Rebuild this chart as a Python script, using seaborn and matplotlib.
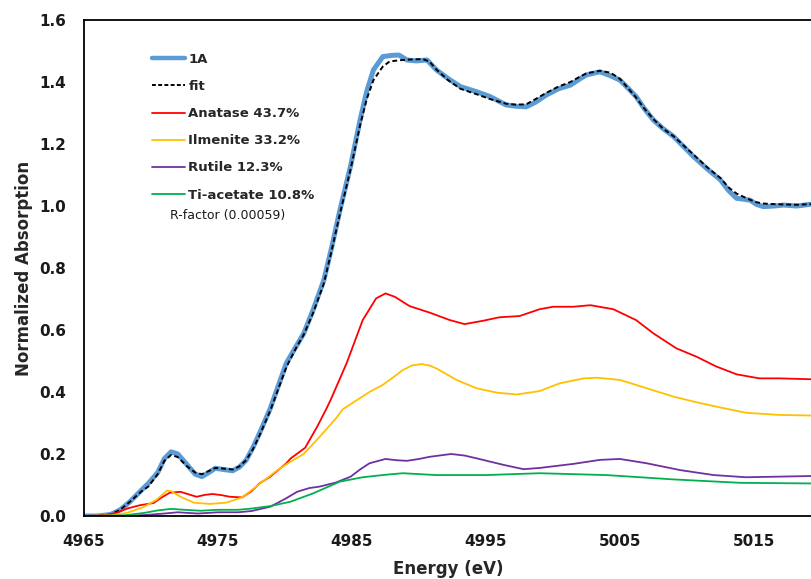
import matplotlib
matplotlib.use("Agg")
import matplotlib.pyplot as plt
import seaborn as sns
import pandas as pd
from matplotlib.lines import Line2D

# ---- data ----
x_1a = [4965.0, 4966.0, 4967.0, 4967.7, 4968.4, 4969.3, 4969.8, 4970.5, 4971.0, 4971.5,
        4972.0, 4972.7, 4973.3, 4973.8, 4974.3, 4974.8, 4975.4, 4976.1, 4976.6, 4977.1,
        4977.6, 4978.1, 4978.9, 4979.5, 4980.1, 4980.8, 4981.4, 4982.1, 4982.9, 4983.5,
        4984.1, 4984.9, 4985.6, 4986.1, 4986.6, 4987.3, 4988.0, 4988.5, 4989.1, 4989.8,
        4990.6, 4991.3, 4992.2, 4993.1, 4994.2, 4995.3, 4996.5, 4997.2, 4998.0, 4998.7,
        4999.5, 5000.4, 5001.3, 5002.0, 5002.5, 5003.5, 5004.3, 5005.0, 5005.6, 5006.2,
        5006.8, 5007.5, 5008.2, 5009.0, 5010.5, 5011.5, 5012.5, 5013.1, 5013.7, 5014.7,
        5015.2, 5015.7, 5016.5, 5017.2, 5018.2, 5019.3]
y_1a = [0.0, 0.0, 0.005, 0.02, 0.045, 0.084, 0.105, 0.14, 0.185, 0.207,
        0.2, 0.165, 0.135, 0.127, 0.14, 0.154, 0.15, 0.146, 0.158, 0.18,
        0.22, 0.267, 0.347, 0.42, 0.493, 0.545, 0.589, 0.665, 0.761, 0.87,
        0.987, 1.13, 1.277, 1.37, 1.439, 1.482, 1.486, 1.487, 1.471, 1.468,
        1.471, 1.439, 1.41, 1.385, 1.37, 1.353, 1.326, 1.322, 1.32, 1.335,
        1.358, 1.378, 1.39, 1.41, 1.423, 1.433, 1.42, 1.406, 1.38, 1.353,
        1.315, 1.277, 1.25, 1.224, 1.159, 1.12, 1.084, 1.05, 1.025, 1.019,
        1.005, 0.998, 1.0, 1.003, 1.0, 1.006]

x_fit = [4965.0, 4966.0, 4967.0, 4967.7, 4968.4, 4969.3, 4969.8, 4970.5, 4971.0, 4971.5,
         4972.0, 4972.7, 4973.3, 4973.8, 4974.3, 4974.8, 4975.4, 4976.1, 4976.6, 4977.1,
         4977.6, 4978.1, 4978.9, 4979.5, 4980.1, 4980.8, 4981.4, 4982.1, 4982.9, 4983.5,
         4984.1, 4984.9, 4985.6, 4986.1, 4986.6, 4987.3, 4987.8, 4988.5, 4989.1, 4990.3,
         4990.8, 4991.3, 4992.2, 4993.1, 4994.2, 4995.3, 4996.5, 4997.2, 4998.0, 4998.7,
         4999.5, 5000.4, 5001.3, 5002.0, 5002.5, 5003.5, 5004.3, 5005.0, 5005.6, 5006.2,
         5006.8, 5007.5, 5008.2, 5009.0, 5010.5, 5011.5, 5012.5, 5013.1, 5013.7, 5014.7,
         5015.2, 5015.7, 5016.5, 5017.2, 5018.2, 5019.3]
y_fit = [0.0, 0.0, 0.005, 0.02, 0.045, 0.08, 0.095, 0.135, 0.178, 0.197,
         0.19, 0.16, 0.14, 0.135, 0.145, 0.155, 0.153, 0.15, 0.16, 0.18,
         0.215, 0.26, 0.34, 0.41, 0.48, 0.54, 0.585, 0.655, 0.75, 0.86,
         0.975, 1.12, 1.26, 1.345, 1.406, 1.45, 1.466, 1.47, 1.472, 1.474,
         1.465, 1.44, 1.405, 1.378, 1.362, 1.345, 1.33, 1.327, 1.328, 1.345,
         1.365, 1.385, 1.4, 1.417, 1.428, 1.436, 1.43, 1.41, 1.38, 1.35,
         1.315, 1.28, 1.25, 1.225, 1.165, 1.125, 1.09, 1.06, 1.04, 1.02,
         1.012, 1.008, 1.006, 1.005, 1.004, 1.006]

x_anatase = [4965.0, 4966.5, 4967.4, 4968.3, 4969.2, 4970.2, 4970.8, 4971.4, 4972.2, 4972.8,
             4973.4, 4974.0, 4974.6, 4975.3, 4975.9, 4976.8, 4977.5, 4978.1, 4978.9, 4980.1,
             4980.4, 4981.5, 4982.4, 4983.1, 4983.4, 4984.6, 4985.8, 4986.8, 4987.5, 4988.2,
             4989.3, 4990.8, 4992.3, 4993.4, 4994.8, 4996.0, 4997.5, 4999.0, 5000.0, 5001.5,
             5002.8, 5004.5, 5006.2, 5007.5, 5009.2, 5010.7, 5012.2, 5013.7, 5015.4, 5016.9,
             5019.3]
y_anatase = [0.0, 0.002, 0.01, 0.025, 0.035, 0.042, 0.06, 0.075, 0.078, 0.07,
             0.062, 0.068, 0.071, 0.067, 0.062, 0.06, 0.08, 0.105, 0.127, 0.17,
             0.185, 0.22, 0.288, 0.347, 0.374, 0.493, 0.632, 0.702, 0.718, 0.707,
             0.677, 0.656, 0.632, 0.619, 0.63, 0.641, 0.645, 0.667, 0.675, 0.675,
             0.68, 0.667, 0.632, 0.589, 0.541, 0.514, 0.482, 0.457, 0.444, 0.444,
             0.441]

x_ilmenite = [4965.0, 4967.0, 4968.2, 4969.4, 4970.4, 4971.2, 4971.5, 4972.2, 4973.2, 4974.4,
              4975.6, 4976.8, 4977.7, 4978.6, 4979.5, 4980.4, 4981.4, 4982.6, 4983.9, 4984.3,
              4985.3, 4986.3, 4987.3, 4988.0, 4988.8, 4989.5, 4990.2, 4990.8, 4991.3, 4992.8,
              4994.3, 4995.8, 4997.3, 4999.0, 5000.5, 5002.3, 5003.3, 5005.0, 5007.0, 5009.0,
              5010.7, 5012.5, 5014.4, 5016.9, 5019.3]
y_ilmenite = [0.0, 0.002, 0.01, 0.028, 0.052, 0.082, 0.08, 0.062, 0.043, 0.039,
              0.043, 0.06, 0.09, 0.12, 0.15, 0.175, 0.2, 0.256, 0.32, 0.344,
              0.372, 0.4, 0.423, 0.445, 0.471, 0.486, 0.49, 0.485, 0.476, 0.439,
              0.412, 0.398, 0.392, 0.403, 0.428, 0.444, 0.446, 0.439, 0.412, 0.385,
              0.367, 0.35, 0.333, 0.326, 0.324]

x_rutile = [4965.0, 4968.0, 4969.5, 4971.0, 4972.0, 4973.5, 4975.0, 4976.5, 4977.5, 4978.9,
            4980.0, 4980.9, 4981.8, 4982.6, 4983.8, 4984.9, 4985.6, 4986.3, 4987.5, 4988.3,
            4989.1, 4990.0, 4990.8, 4992.4, 4993.4, 4994.3, 4996.3, 4997.8, 4999.0, 5001.5,
            5003.5, 5005.0, 5007.0, 5009.5, 5012.0, 5014.4, 5016.9, 5019.3]
y_rutile = [0.0, 0.0, 0.003, 0.008, 0.012, 0.008, 0.012, 0.012, 0.016, 0.03,
            0.055, 0.078, 0.09, 0.095, 0.108, 0.127, 0.15, 0.17, 0.184, 0.18,
            0.178, 0.184, 0.191, 0.2, 0.195, 0.186, 0.165, 0.151, 0.155, 0.168,
            0.181, 0.184, 0.17, 0.148, 0.132, 0.125, 0.127, 0.129]

x_tiac = [4965.0, 4968.0, 4969.5, 4970.5, 4971.5, 4972.5, 4973.7, 4975.0, 4976.5, 4977.5,
          4978.9, 4980.4, 4982.1, 4984.1, 4985.8, 4987.5, 4988.8, 4991.3, 4995.0, 4999.0,
          5004.0, 5009.0, 5014.0, 5019.3]
y_tiac = [0.0, 0.002, 0.01, 0.018, 0.023, 0.02, 0.017, 0.02, 0.02, 0.024,
          0.032, 0.046, 0.073, 0.111, 0.125, 0.133, 0.138, 0.132, 0.132, 0.138,
          0.132, 0.118, 0.107, 0.105]

labels = ["1A", "fit", "Anatase 43.7%", "Ilmenite 33.2%", "Rutile 12.3%", "Ti-acetate 10.8%"]
colors = ["#5B9BD5", "#000000", "#FF0000", "#FFC000", "#7030A0", "#00B050"]
x_ticks = [4965, 4975, 4985, 4995, 5005, 5015]
y_ticks = [0.0, 0.2, 0.4, 0.6, 0.8, 1.0, 1.2, 1.4, 1.6]

# ---- plotting ----
sns.set_style("white")
plt.rcParams["font.family"] = ["DejaVu Sans"]

fig = plt.figure(figsize=(8.12, 5.79), dpi=100)
ax = fig.add_axes([84 / 812, 1 - 516 / 579, 1 - 84 / 812, (516 - 20) / 579])

series = [(x_1a, y_1a), (x_fit, y_fit), (x_anatase, y_anatase),
          (x_ilmenite, y_ilmenite), (x_rutile, y_rutile), (x_tiac, y_tiac)]
widths = [3.6, 1.4, 1.3, 1.3, 1.3, 1.3]
for i in [0, 1]:
    xs, ys = series[i]
    df = pd.DataFrame({"x": xs, "y": ys})
    kw = dict(linestyle=(0, (2.5, 1.5))) if i == 1 else {}
    sns.lineplot(data=df, x="x", y="y", ax=ax, color=colors[i], linewidth=widths[i],
                 estimator=None, sort=False, legend=False, **kw)
for i in [2, 3, 4, 5]:
    xs, ys = series[i]
    df = pd.DataFrame({"x": xs, "y": ys})
    sns.lineplot(data=df, x="x", y="y", ax=ax, color=colors[i], linewidth=widths[i],
                 estimator=None, sort=False, legend=False)

ax.set_xlim(4965, 4965 + (812 - 84) / 13.4)
ax.set_ylim(0, 1.6)
ax.set_xticks(x_ticks)
ax.set_yticks(y_ticks)
ax.set_xticklabels([str(t) for t in x_ticks], fontweight="bold", fontsize=11)
ax.set_yticklabels([f"{t:.1f}" for t in y_ticks], fontweight="bold", fontsize=11)
ax.tick_params(axis="both", direction="in", length=5, width=1.2, color="black",
               labelcolor="#1a1a1a")
ax.tick_params(axis="x", pad=13)
ax.tick_params(axis="y", pad=13)
for s in ["left", "bottom", "top"]:
    ax.spines[s].set_color("black")
    ax.spines[s].set_linewidth(1.3)
ax.spines["right"].set_visible(False)

ax.set_xlabel("Energy (eV)", fontweight="bold", fontsize=12, labelpad=8)
ax.set_ylabel("Normalized Absorption", fontweight="bold", fontsize=12, labelpad=4)

handles = []
for i, lab in enumerate(labels):
    ls = (0, (2.0, 1.2)) if i == 1 else "-"
    handles.append(Line2D([0], [0], color=colors[i], lw=widths[i] if i != 0 else 3.2, linestyle=ls))
leg = fig.legend(handles, labels, loc="upper left",
                 bbox_to_anchor=(152 / 812, 1 - 53 / 579), bbox_transform=fig.transFigure,
                 frameon=False, prop={"weight": "bold", "size": 9.5},
                 handlelength=2.5, handletextpad=0.25, labelspacing=1.07,
                 borderpad=0, borderaxespad=0)
fig.text(170 / 812, 1 - 216 / 579, "R-factor (0.00059)", fontsize=9,
         va="center", ha="left", color="#1a1a1a")

fig.savefig("out.png", dpi=100)
